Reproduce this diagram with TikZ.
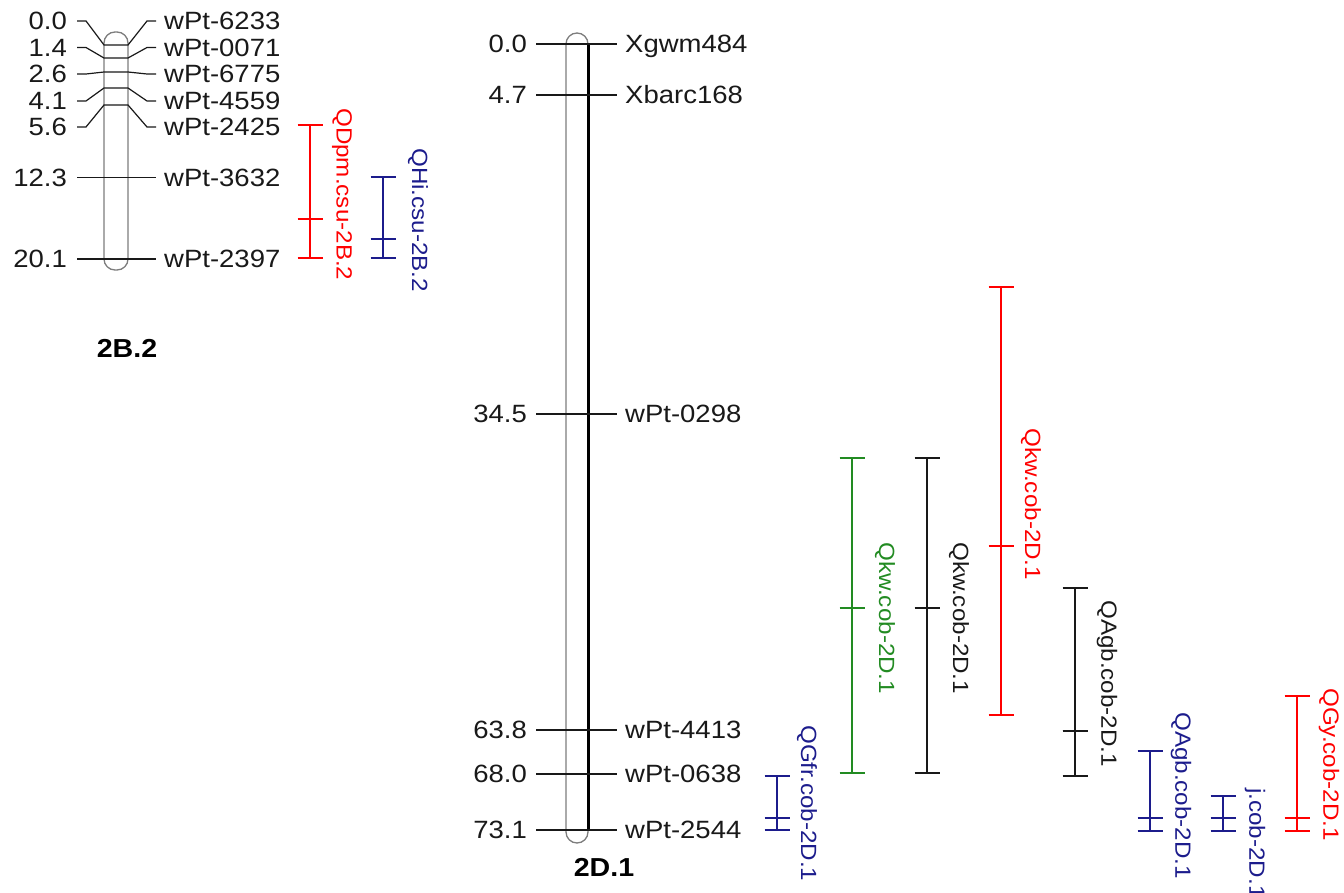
\documentclass[tikz,border=0pt]{standalone}
\usepackage{fontspec}
\setmainfont[FakeStretch=1.1]{Liberation Sans}
\definecolor{navy}{RGB}{28,28,140}
\definecolor{qgreen}{RGB}{34,139,34}
\definecolor{qred}{RGB}{255,0,0}
\definecolor{txt}{RGB}{25,25,25}
\definecolor{wall}{RGB}{125,125,125}
\newcommand\qtlbar[5]{%
  \draw[qbar,#1] (#2-12.5,#3) -- (#2+12.5,#3) (#2,#3) -- (#2,#5)
    (#2-12.5,#4) -- (#2+12.5,#4) (#2-12.5,#5) -- (#2+12.5,#5);}
\begin{document}
\begin{tikzpicture}[x=1pt,y=-1pt,
  lab/.style={font=\fontsize{25}{25}\selectfont, text=txt, inner sep=0pt, text height=17.9pt, text depth=0pt},
  numl/.style={lab, anchor=east},
  mkl/.style={lab, anchor=west},
  mline/.style={line width=1.2pt, draw=txt},
  qbar/.style={line width=1.2pt},
  qlab/.style={font=\fontsize{22}{22}\selectfont, rotate=-90, anchor=west, inner sep=0pt},
  chrname/.style={font=\bfseries\fontsize{26}{26}\selectfont, inner sep=0pt},
  chrom/.style={draw=wall, line width=1.3pt, rounded corners=11pt}]
\useasboundingbox (0,0) rectangle (1344,893);

% ---------- chromosome 2B.2 ----------
\draw[chrom] (104,32) rectangle (128,270);
\foreach \ly/\cy/\num/\nm/\i in {21/45/0.0/wPt-6233/a, 47.5/58/1.4/wPt-0071/b, 74/72/2.6/wPt-6775/c, 101/88/4.1/wPt-4559/d, 127/105/5.6/wPt-2425/e} {
  \node[numl] (L\i) at (67,\ly) {\num};
  \node[mkl] (R\i) at (164,\ly) {\nm};
  \draw[mline] ([xshift=10pt]L\i.east) -- ++(9,0) -- (104,\cy) -- (128,\cy) -- ([xshift=-17pt]R\i.west) -- ([xshift=-8pt]R\i.west);
}
\node[numl] (Lf) at (67,177.5) {12.3};
\node[mkl] (Rf) at (164,177.5) {wPt-3632};
\draw[mline] ([xshift=10pt]Lf.east) -- ([xshift=-8pt]Rf.west);
\node[numl] (Lg) at (67,259) {20.1};
\node[mkl] (Rg) at (164,259) {wPt-2397};
\draw[mline] ([xshift=10pt]Lg.east) -- ([xshift=-8pt]Rg.west);
\node[chrname] (n2B) at (127,348) {2B.2};

\qtlbar{qred}{310}{125}{219}{258}
\node[qlab, text=qred] (q1) at (342,108) {QDpm.csu-2B.2};
\qtlbar{navy}{383}{177}{239}{258}
\node[qlab, text=navy] (q2) at (418,148) {QHi.csu-2B.2};

% ---------- chromosome 2D.1 ----------
\draw[chrom] (566,33) rectangle (588,843);
\draw[line width=3pt, black] (588,44) -- (588,830);
\foreach \y/\num/\nm/\i/\w in {44/0.0/Xgwm484/a/1.2, 95/4.7/Xbarc168/b/1.2, 414/34.5/wPt-0298/c/1.2, 730/63.8/wPt-4413/d/2.2, 774/68.0/wPt-0638/e/1.2, 830/73.1/wPt-2544/f/1.2} {
  \node[numl] (M\i) at (527,\y) {\num};
  \node[mkl] (N\i) at (625,\y) {\nm};
  \draw[mline, line width=\w pt] ([xshift=9pt]M\i.east) -- ([xshift=-8pt]N\i.west);
}
\node[chrname] (n2D) at (604,867) {2D.1};

\qtlbar{navy}{777}{776}{818}{830}
\node[qlab, text=navy] (q3) at (807,725) {QGfr.cob-2D.1};
\qtlbar{qgreen}{852}{458}{608}{773}
\node[qlab, text=qgreen] (q4) at (885,542) {Qkw.cob-2D.1};
\qtlbar{txt}{927}{458}{608}{773}
\node[qlab, text=txt] (q5) at (959,542) {Qkw.cob-2D.1};
\qtlbar{qred}{1001}{287}{546}{715}
\node[qlab, text=qred] (q6) at (1031,428) {Qkw.cob-2D.1};
\qtlbar{txt}{1075}{588}{731}{776}
\draw[line width=2.2pt, txt] (1062.5,731) -- (1087.5,731);
\node[qlab, text=txt] (q7) at (1107,600) {QAgb.cob-2D.1};
\qtlbar{navy}{1150}{751}{818}{831}
\node[qlab, text=navy] (q8) at (1181,712) {QAgb.cob-2D.1};
\qtlbar{navy}{1223}{796}{818}{831}
\node[qlab, text=navy] (q9) at (1255,788) {j.cob-2D.1};
\qtlbar{qred,line width=1.8pt}{1297}{696}{818}{831}
\node[qlab, text=qred] (q10) at (1329,688) {QGy.cob-2D.1};
\end{tikzpicture}
\end{document}
